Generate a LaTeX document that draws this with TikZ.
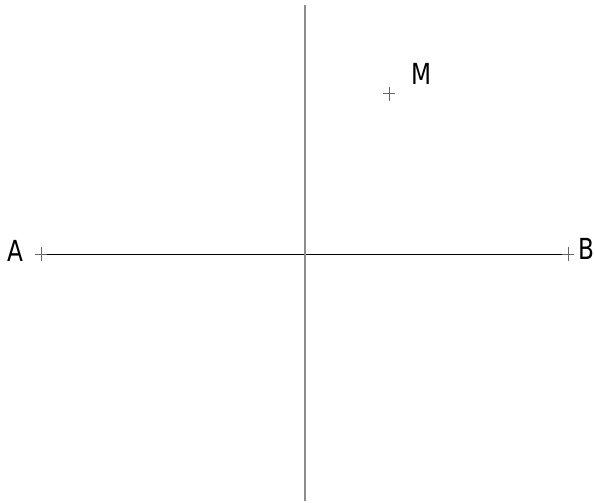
\documentclass[tikz,border=0pt]{standalone}
\usepackage{fontspec}
\setmainfont{DejaVu Sans}
\usepackage{tikz}
\usetikzlibrary{positioning}
\newcommand{\ptname}[1]{\scalebox{0.8}[1]{#1}}
\tikzstyle{point}=[coordinate]
\tikzstyle{point label}=[inner sep=0pt,font=\fontsize{29}{29}\selectfont]
\tikzstyle{axis}=[draw,line width=0.9pt,black]
\tikzstyle{median}=[draw,line width=2pt,black!45]
\tikzstyle{cross}=[draw,line width=1pt,black!60]

\begin{document}
\begin{tikzpicture}[x=1pt,y=-1pt]
    \useasboundingbox (0,0) rectangle (595,503);
    % The points
    \foreach \pos/\name in {{(41,254)/A}, {(568,254)/B}, {(389,94)/M}}
        \node[point] (\name) at \pos {};
    \node[point] (top) at (305,5) {};
    \node[point] (bottom) at (305,501) {};

    % The segment and its perpendicular
    \path[axis] (A) -- (B);
    \path[median] (top) -- (bottom);

    % Small crosses on the points
    \foreach \name in {A,B,M}
        \path[cross] (\name) +(-6,0) -- +(6,0) +(0,-7) -- +(0,7);

    % Labels
    \node[point label, left=17pt of A,yshift=3pt] (labelA) {\ptname{A}};
    \node[point label, right=10pt of B,yshift=5pt] (labelB) {\ptname{B}};
    \node[point label, above right=9pt and 22pt of M] (labelM) {\ptname{M}};
\end{tikzpicture}
\end{document}
